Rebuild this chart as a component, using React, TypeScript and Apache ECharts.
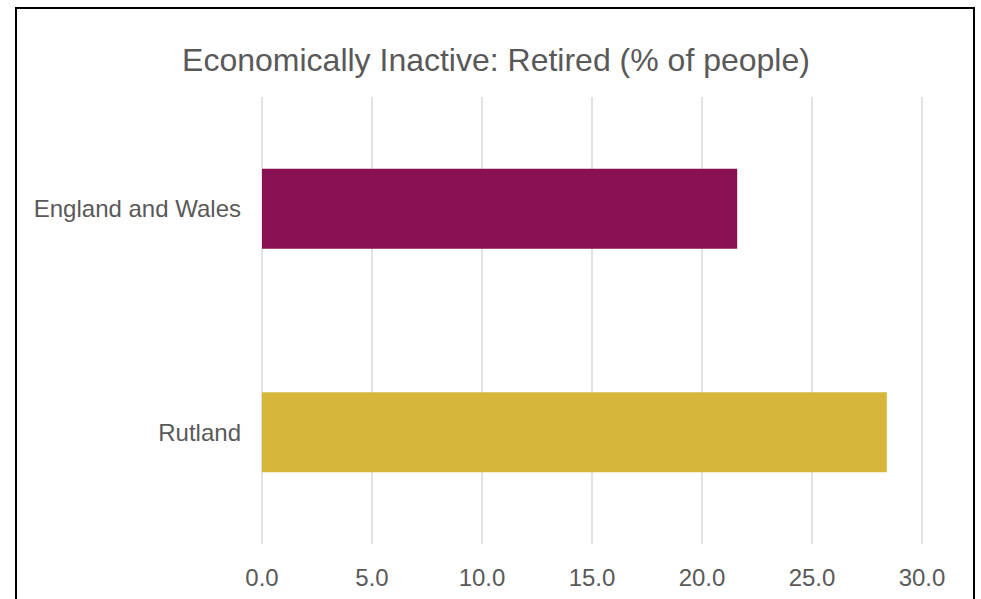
import React, { useEffect, useRef } from "react";
import * as echarts from "echarts";

const categories = ["England and Wales", "Rutland"];
const values = [21.6, 28.4];
const barColors = ["#8A1151", "#D6B73C"];
const titleText = "Economically Inactive: Retired (% of people)";

export default function App() {
  const ref = useRef<HTMLDivElement>(null);
  useEffect(() => {
    if (!ref.current) return;
    const chart = echarts.init(ref.current, null, { renderer: "svg" });
    chart.setOption({
      animation: false,
      backgroundColor: "#ffffff",
      textStyle: { fontFamily: "Liberation Sans, Arial, sans-serif" },
      graphic: [
        {
          type: "rect",
          shape: { x: 16, y: 8, width: 958, height: 700 },
          style: { fill: "none", stroke: "#000000", lineWidth: 2 },
          silent: true,
        },
        {
          type: "text",
          x: 496,
          y: 60,
          style: {
            text: titleText,
            fill: "#595959",
            fontSize: 32,
            fontFamily: "Liberation Sans, Arial, sans-serif",
            align: "center",
            verticalAlign: "middle",
          },
        },
      ],
      grid: { left: 262, top: 97, width: 660, height: 447, containLabel: false },
      xAxis: {
        type: "value",
        min: 0,
        max: 30,
        interval: 5,
        axisLine: { show: false },
        axisTick: { show: false },
        splitLine: { show: true, lineStyle: { color: "#d9d9d9", width: 1.5 } },
        axisLabel: {
          color: "#595959",
          fontSize: 24,
          margin: 21,
          formatter: (v: number) => v.toFixed(1),
        },
      },
      yAxis: {
        type: "category",
        data: categories,
        inverse: true,
        axisLine: { show: false },
        axisTick: { show: false },
        axisLabel: { color: "#595959", fontSize: 24, margin: 21 },
      },
      series: [
        {
          type: "bar",
          barWidth: 80,
          data: values.map((v, i) => ({ value: v, itemStyle: { color: barColors[i] } })),
        },
      ],
    });
    return () => chart.dispose();
  }, []);
  return (
    <div
      ref={ref}
      style={{ position: "fixed", left: 0, top: 0, width: 981, height: 599 }}
    />
  );
}
